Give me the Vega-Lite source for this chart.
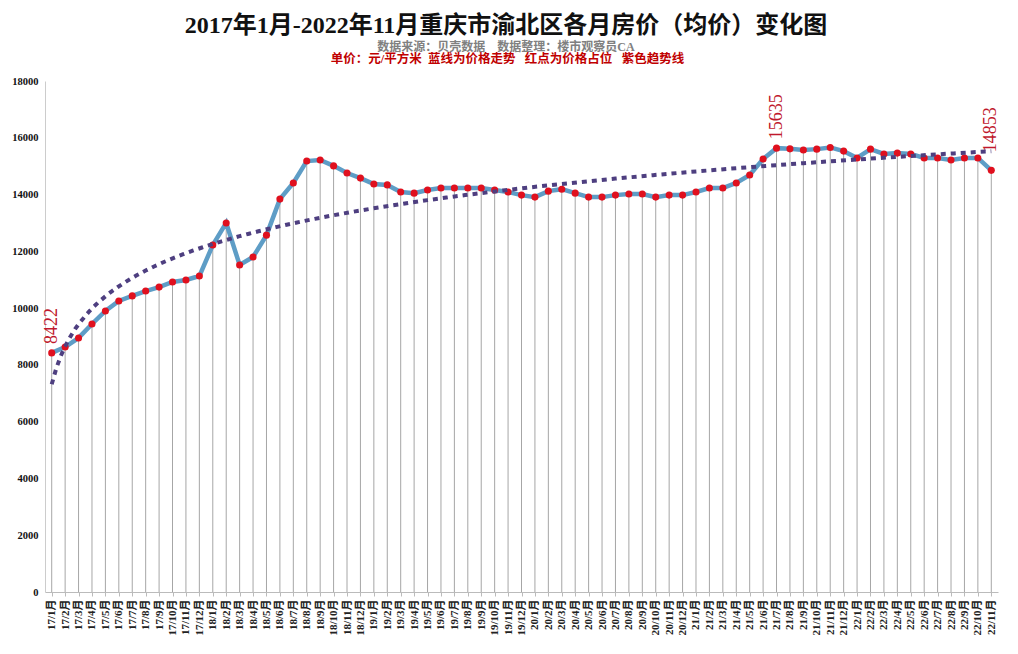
{
  "$schema": "https://vega.github.io/schema/vega-lite/v6.json",
  "background": "white",
  "padding": {"left": 11, "top": 13, "right": 10, "bottom": 4},
  "title": {
    "text": "2017年1月-2022年11月重庆市渝北区各月房价（均价）变化图",
    "subtitle": "数据来源：贝壳数据\u3000数据整理：楼市观察员CA",
    "font": "Liberation Serif, Noto Sans CJK SC",
    "fontSize": 24,
    "fontWeight": "bold",
    "color": "#111111",
    "subtitleFont": "Liberation Serif, Noto Sans CJK SC",
    "subtitleFontSize": 12,
    "subtitleFontWeight": "bold",
    "subtitleColor": "#808080",
    "subtitlePadding": 4,
    "anchor": "middle",
    "offset": 0,
    "dx": 0
  },
  "data": {
    "values": [
      {"i": 1, "month": "17/1月", "value": 8422, "note": "8422", "note2": ""},
      {"i": 2, "month": "17/2月", "value": 8630, "note": "", "note2": ""},
      {"i": 3, "month": "17/3月", "value": 8950, "note": "", "note2": ""},
      {"i": 4, "month": "17/4月", "value": 9440, "note": "", "note2": ""},
      {"i": 5, "month": "17/5月", "value": 9900, "note": "", "note2": ""},
      {"i": 6, "month": "17/6月", "value": 10250, "note": "", "note2": ""},
      {"i": 7, "month": "17/7月", "value": 10430, "note": "", "note2": ""},
      {"i": 8, "month": "17/8月", "value": 10600, "note": "", "note2": ""},
      {"i": 9, "month": "17/9月", "value": 10740, "note": "", "note2": ""},
      {"i": 10, "month": "17/10月", "value": 10920, "note": "", "note2": ""},
      {"i": 11, "month": "17/11月", "value": 10990, "note": "", "note2": ""},
      {"i": 12, "month": "17/12月", "value": 11130, "note": "", "note2": ""},
      {"i": 13, "month": "18/1月", "value": 12220, "note": "", "note2": ""},
      {"i": 14, "month": "18/2月", "value": 13000, "note": "", "note2": ""},
      {"i": 15, "month": "18/3月", "value": 11520, "note": "", "note2": ""},
      {"i": 16, "month": "18/4月", "value": 11800, "note": "", "note2": ""},
      {"i": 17, "month": "18/5月", "value": 12570, "note": "", "note2": ""},
      {"i": 18, "month": "18/6月", "value": 13840, "note": "", "note2": ""},
      {"i": 19, "month": "18/7月", "value": 14410, "note": "", "note2": ""},
      {"i": 20, "month": "18/8月", "value": 15180, "note": "", "note2": ""},
      {"i": 21, "month": "18/9月", "value": 15220, "note": "", "note2": ""},
      {"i": 22, "month": "18/10月", "value": 15010, "note": "", "note2": ""},
      {"i": 23, "month": "18/11月", "value": 14760, "note": "", "note2": ""},
      {"i": 24, "month": "18/12月", "value": 14580, "note": "", "note2": ""},
      {"i": 25, "month": "19/1月", "value": 14370, "note": "", "note2": ""},
      {"i": 26, "month": "19/2月", "value": 14340, "note": "", "note2": ""},
      {"i": 27, "month": "19/3月", "value": 14090, "note": "", "note2": ""},
      {"i": 28, "month": "19/4月", "value": 14050, "note": "", "note2": ""},
      {"i": 29, "month": "19/5月", "value": 14160, "note": "", "note2": ""},
      {"i": 30, "month": "19/6月", "value": 14230, "note": "", "note2": ""},
      {"i": 31, "month": "19/7月", "value": 14230, "note": "", "note2": ""},
      {"i": 32, "month": "19/8月", "value": 14230, "note": "", "note2": ""},
      {"i": 33, "month": "19/9月", "value": 14230, "note": "", "note2": ""},
      {"i": 34, "month": "19/10月", "value": 14160, "note": "", "note2": ""},
      {"i": 35, "month": "19/11月", "value": 14090, "note": "", "note2": ""},
      {"i": 36, "month": "19/12月", "value": 13980, "note": "", "note2": ""},
      {"i": 37, "month": "20/1月", "value": 13910, "note": "", "note2": ""},
      {"i": 38, "month": "20/2月", "value": 14120, "note": "", "note2": ""},
      {"i": 39, "month": "20/3月", "value": 14190, "note": "", "note2": ""},
      {"i": 40, "month": "20/4月", "value": 14050, "note": "", "note2": ""},
      {"i": 41, "month": "20/5月", "value": 13910, "note": "", "note2": ""},
      {"i": 42, "month": "20/6月", "value": 13910, "note": "", "note2": ""},
      {"i": 43, "month": "20/7月", "value": 13980, "note": "", "note2": ""},
      {"i": 44, "month": "20/8月", "value": 14020, "note": "", "note2": ""},
      {"i": 45, "month": "20/9月", "value": 14020, "note": "", "note2": ""},
      {"i": 46, "month": "20/10月", "value": 13910, "note": "", "note2": ""},
      {"i": 47, "month": "20/11月", "value": 13980, "note": "", "note2": ""},
      {"i": 48, "month": "20/12月", "value": 13980, "note": "", "note2": ""},
      {"i": 49, "month": "21/1月", "value": 14090, "note": "", "note2": ""},
      {"i": 50, "month": "21/2月", "value": 14230, "note": "", "note2": ""},
      {"i": 51, "month": "21/3月", "value": 14230, "note": "", "note2": ""},
      {"i": 52, "month": "21/4月", "value": 14410, "note": "", "note2": ""},
      {"i": 53, "month": "21/5月", "value": 14690, "note": "", "note2": ""},
      {"i": 54, "month": "21/6月", "value": 15250, "note": "", "note2": ""},
      {"i": 55, "month": "21/7月", "value": 15635, "note": "15635", "note2": ""},
      {"i": 56, "month": "21/8月", "value": 15610, "note": "", "note2": ""},
      {"i": 57, "month": "21/9月", "value": 15570, "note": "", "note2": ""},
      {"i": 58, "month": "21/10月", "value": 15600, "note": "", "note2": ""},
      {"i": 59, "month": "21/11月", "value": 15660, "note": "", "note2": ""},
      {"i": 60, "month": "21/12月", "value": 15530, "note": "", "note2": ""},
      {"i": 61, "month": "22/1月", "value": 15290, "note": "", "note2": ""},
      {"i": 62, "month": "22/2月", "value": 15600, "note": "", "note2": ""},
      {"i": 63, "month": "22/3月", "value": 15430, "note": "", "note2": ""},
      {"i": 64, "month": "22/4月", "value": 15460, "note": "", "note2": ""},
      {"i": 65, "month": "22/5月", "value": 15430, "note": "", "note2": ""},
      {"i": 66, "month": "22/6月", "value": 15290, "note": "", "note2": ""},
      {"i": 67, "month": "22/7月", "value": 15290, "note": "", "note2": ""},
      {"i": 68, "month": "22/8月", "value": 15220, "note": "", "note2": ""},
      {"i": 69, "month": "22/9月", "value": 15290, "note": "", "note2": ""},
      {"i": 70, "month": "22/10月", "value": 15290, "note": "", "note2": ""},
      {"i": 71, "month": "22/11月", "value": 14853, "note": "", "note2": "14853"}
    ]
  },
  "vconcat": [
    {
      "width": 953,
      "height": 511,
      "title": {
        "text": "单价：元/平方米\u00a0\u00a0蓝线为价格走势\u00a0\u00a0\u00a0红点为价格占位\u00a0\u00a0\u00a0紫色趋势线",
        "font": "Liberation Serif, Noto Sans CJK SC",
        "fontSize": 12.5,
        "fontWeight": "bold",
        "color": "#c00000",
        "anchor": "middle",
        "offset": 11,
        "dx": -14
      },
      "layer": [
        {
          "layer": [
            {
              "mark": {"type": "rule", "color": "#a6a6a6", "strokeWidth": 1},
              "encoding": {
                "x": {"field": "month", "type": "ordinal", "sort": null},
                "y": {"field": "value", "type": "quantitative"},
                "y2": {"datum": 0}
              }
            },
            {
              "mark": {"type": "line", "color": "#5e9dc6", "strokeWidth": 4.5},
              "encoding": {
                "x": {"field": "month", "type": "ordinal", "sort": null},
                "y": {"field": "value", "type": "quantitative"}
              }
            },
            {
              "mark": {"type": "point", "filled": true, "color": "#e0101e", "size": 50, "opacity": 1},
              "encoding": {
                "x": {"field": "month", "type": "ordinal", "sort": null},
                "y": {"field": "value", "type": "quantitative"}
              }
            },
            {
              "mark": {"type": "text", "angle": 270, "align": "left", "baseline": "middle", "dx": 9, "fontSize": 18, "font": "Liberation Serif", "color": "#c0182c"},
              "encoding": {
                "x": {"field": "month", "type": "ordinal", "sort": null},
                "y": {"field": "value", "type": "quantitative"},
                "text": {"field": "note"}
              }
            },
            {
              "mark": {"type": "text", "angle": 270, "align": "left", "baseline": "middle", "dx": 18, "fontSize": 18, "font": "Liberation Serif", "color": "#c0182c"},
              "encoding": {
                "x": {"field": "month", "type": "ordinal", "sort": null},
                "y": {"field": "value", "type": "quantitative"},
                "text": {"field": "note2"}
              }
            }
          ],
          "encoding": {
            "x": {
              "field": "month", "type": "ordinal", "sort": null,
              "scale": {"type": "point", "padding": 0.5},
              "axis": {
                "title": null,
                "labelAngle": -90,
                "labelFont": "Liberation Serif, Noto Sans CJK SC",
                "labelFontSize": 11,
                "labelFontWeight": "bold",
                "labelColor": "#222222",
                "labelPadding": 3,
                "tickSize": 4,
                "tickColor": "#bbbbbb",
                "domainColor": "#bbbbbb",
                "labelOverlap": false
              }
            },
            "y": {
              "field": "value", "type": "quantitative",
              "scale": {"domain": [0, 18000], "nice": false},
              "axis": {
                "title": null,
                "values": [0, 2000, 4000, 6000, 8000, 10000, 12000, 14000, 16000, 18000],
                "format": "d",
                "grid": false,
                "labelFont": "Liberation Serif",
                "labelFontSize": 10.5,
                "labelFontWeight": "bold",
                "labelColor": "#111111",
                "labelPadding": 7,
                "ticks": false,
                "domainColor": "#cccccc"
              }
            }
          }
        },
        {
          "transform": [{"regression": "value", "on": "i", "method": "log"}],
          "mark": {"type": "line", "color": "#4e3f80", "strokeWidth": 4, "strokeDash": [5, 5], "strokeCap": "butt"},
          "encoding": {
            "x": {"field": "i", "type": "quantitative", "scale": {"domain": [0.5, 71.5], "nice": false, "zero": false}, "axis": null},
            "y": {"field": "value", "type": "quantitative"}
          }
        }
      ],
      "resolve": {"scale": {"x": "independent"}}
    }
  ],
  "config": {
    "view": {"stroke": null},
    "concat": {"spacing": 0}
  }
}
